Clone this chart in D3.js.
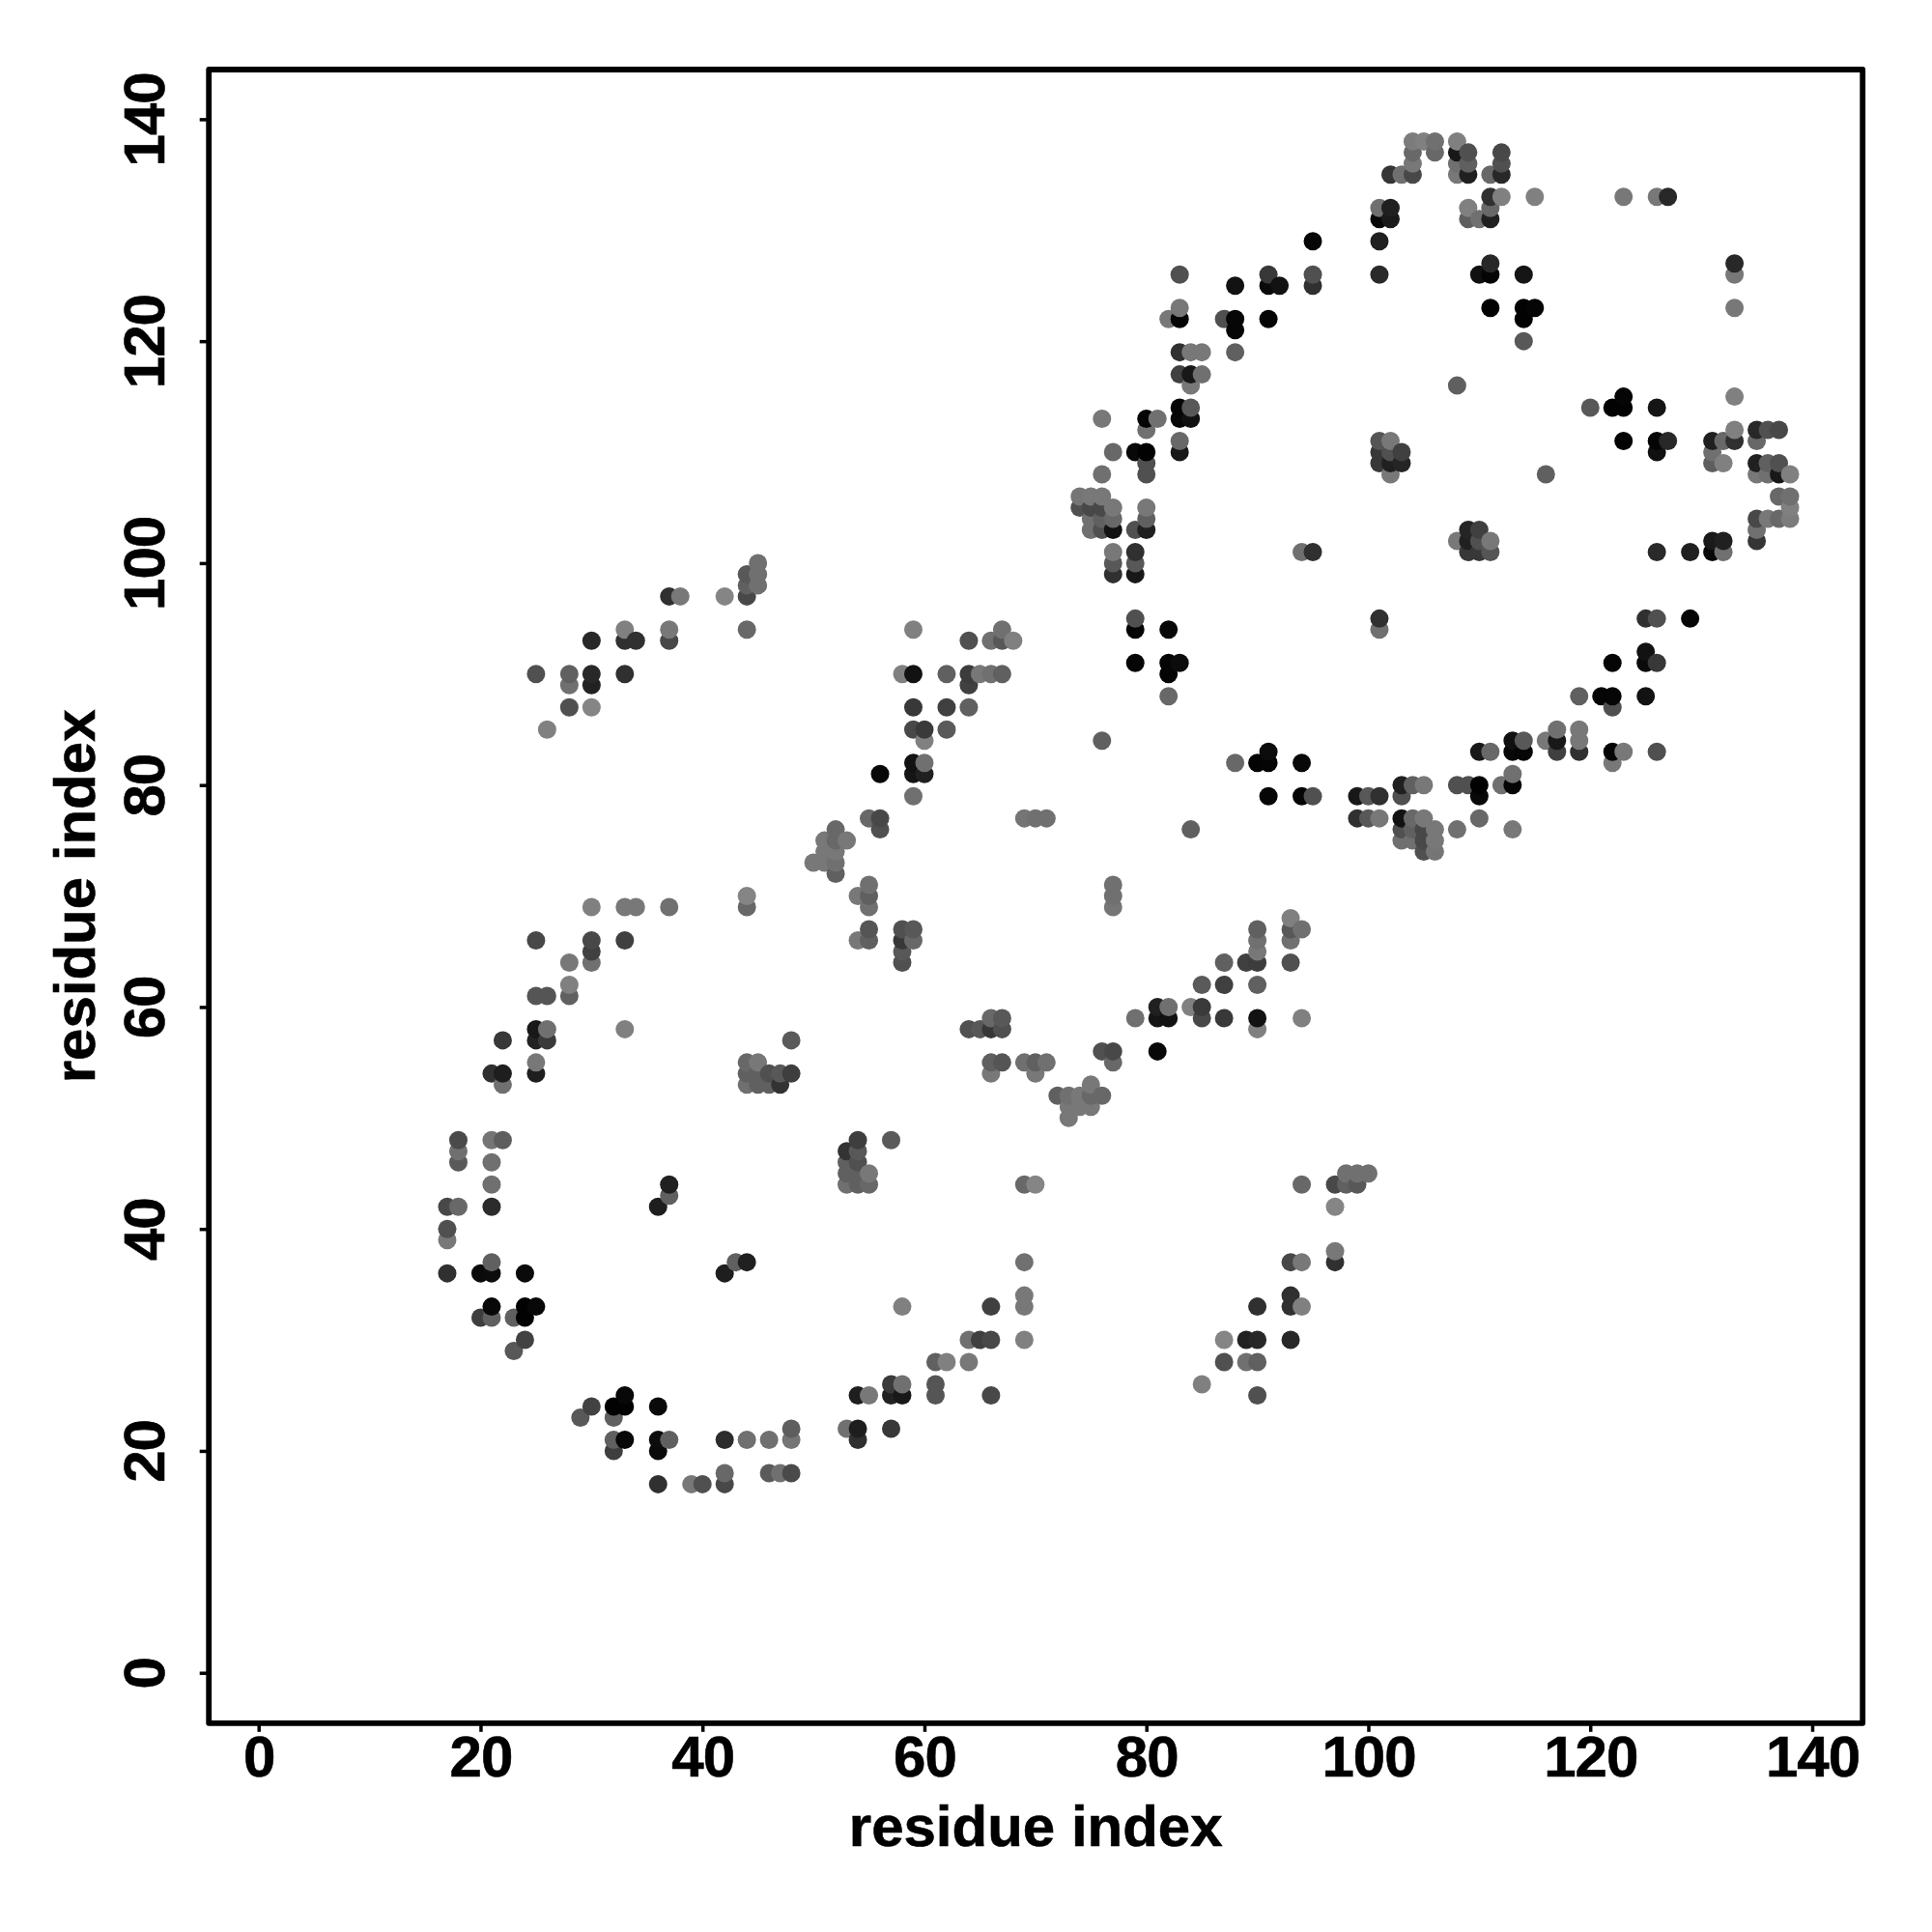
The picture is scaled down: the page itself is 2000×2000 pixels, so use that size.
<!DOCTYPE html>
<html><head><meta charset="utf-8">
<script src="https://cdnjs.cloudflare.com/ajax/libs/d3/7.8.5/d3.min.js"></script>
<style>html,body{margin:0;padding:0;background:#fff}svg{display:block}text{font-family:"Liberation Sans",Arial,sans-serif;font-weight:700;fill:#000;stroke:#000;stroke-width:.6px}</style>
</head><body><script>
// [residue i, residue j, grey level of the contact]; the map is symmetric, so only i<j is listed
const contactsRingOne = [
[17,36,0x30],[17,39,0x78],[17,40,0x50],[17,42,0x48],[18,42,0x68],[18,46,0x5a],[18,47,0x70],[18,48,0x4a],
[20,32,0x3e],[20,36,0x0a],[21,32,0x60],[21,33,0x08],[21,36,0x0c],[21,37,0x60],[21,42,0x2c],[21,44,0x70],[21,46,0x70],[21,48,0x75],[21,54,0x30],
[22,48,0x5e],[22,53,0x70],[22,54,0x1e],[22,57,0x38],
[23,29,0x58],[23,32,0x60],[24,30,0x42],[24,32,0x02],[24,33,0x02],[24,36,0x0a],
[25,33,0x08],[25,54,0x1e],[25,55,0x78],[25,57,0x22],[25,58,0x18],[25,61,0x55],[25,66,0x48],[25,90,0x50],
[26,57,0x3a],[26,58,0x70],[26,61,0x55],[26,85,0x80],
[28,61,0x60],[28,62,0x80],[28,64,0x78],[28,87,0x50],[28,89,0x70],[28,90,0x60],
[30,64,0x70],[30,65,0x40],[30,66,0x48],[30,69,0x80],[30,87,0x85],[30,89,0x22],[30,90,0x28],[30,93,0x28],
[33,58,0x80],[33,66,0x40],[33,69,0x78],[33,90,0x30],[33,93,0x30],[33,94,0x80],[34,69,0x78],[34,93,0x30],
[36,42,0x1e],[37,43,0x60],[37,44,0x20],[37,69,0x70],[37,93,0x48],[37,94,0x78],[37,97,0x30],[38,97,0x78],[42,97,0x85],
[44,53,0x70],[44,54,0x60],[44,55,0x68],[45,53,0x60],[45,54,0x60],[45,55,0x78],[46,53,0x60],[46,54,0x50],[47,53,0x33],[47,54,0x58],[48,54,0x3e],[48,57,0x5a],
[44,69,0x68],[44,70,0x85],[44,94,0x68],[44,97,0x48],[44,98,0x60],[44,99,0x58],[45,98,0x70],[45,99,0x70],[45,100,0x70]
];
const contactsMiddle = [
[50,73,0x78],[51,73,0x78],[51,74,0x78],[51,75,0x78],[52,72,0x60],[52,73,0x70],[52,74,0x78],[52,75,0x68],[52,76,0x68],[53,75,0x78],
[54,66,0x78],[54,70,0x78],[55,66,0x60],[55,67,0x55],[55,69,0x70],[55,70,0x60],[55,71,0x70],[55,77,0x68],[56,76,0x50],[56,77,0x48],[56,81,0x08],
[58,64,0x50],[58,65,0x58],[58,66,0x38],[58,67,0x50],[58,90,0x80],[59,66,0x68],[59,67,0x58],[59,79,0x70],[59,81,0x15],[59,82,0x12],[59,85,0x48],[59,87,0x38],[59,90,0x12],[59,94,0x80],
[60,81,0x20],[60,82,0x70],[60,84,0x80],[60,85,0x3a],[62,85,0x5a],[62,87,0x40],[62,90,0x60],[64,87,0x60],[64,89,0x40],[64,90,0x3c],[64,93,0x50],[65,90,0x78],[66,90,0x70],[66,93,0x70],[67,90,0x60],[67,93,0x58],[67,94,0x70],[68,93,0x80],
[69,77,0x75],[70,77,0x70],[71,77,0x70],[76,84,0x60]
];
const contactsRingTwo = [
[74,105,0x50],[74,106,0x75],[75,103,0x70],[75,104,0x70],[75,105,0x48],[75,106,0x78],[76,103,0x50],[76,104,0x60],[76,105,0x48],[76,106,0x78],[76,108,0x70],[76,113,0x78],
[77,99,0x30],[77,100,0x58],[77,101,0x78],[77,103,0x12],[77,104,0x68],[77,105,0x78],[77,110,0x68],
[79,91,0x06],[79,94,0x05],[79,95,0x50],[79,99,0x18],[79,100,0x58],[79,101,0x30],[79,103,0x50],[79,110,0x08],
[80,103,0x20],[80,104,0x60],[80,105,0x78],[80,108,0x50],[80,109,0x50],[80,110,0x02],[80,112,0x70],[80,113,0x05],[81,113,0x70],
[82,88,0x68],[82,90,0x04],[82,91,0x05],[82,94,0x08],[82,122,0x78],[83,91,0x0c],
[83,110,0x18],[83,111,0x68],[83,113,0x08],[83,114,0x06],[83,117,0x40],[83,119,0x30],[83,122,0x05],[83,123,0x78],[83,126,0x50],
[84,113,0x10],[84,114,0x58],[84,116,0x78],[84,117,0x18],[84,119,0x78],[85,117,0x70],[85,119,0x78],
[87,122,0x50],[88,119,0x60],[88,121,0x06],[88,122,0x06],[88,125,0x12],
[91,122,0x05],[91,125,0x0a],[91,126,0x38],[92,125,0x12],
[94,101,0x70],[95,101,0x30],[95,125,0x30],[95,126,0x50],[95,129,0x06],
[101,109,0x38],[101,110,0x38],[101,111,0x55],[101,126,0x2a],[101,129,0x20],[101,131,0x08],[101,132,0x70],
[102,108,0x78],[102,109,0x20],[102,110,0x50],[102,111,0x78],[102,131,0x1a],[102,132,0x20],[102,135,0x35],
[103,109,0x25],[103,110,0x40],[103,135,0x70],
[104,135,0x48],[104,136,0x78],[104,137,0x68],[104,138,0x7c],[105,138,0x80],[106,137,0x68],[106,138,0x70],
[108,116,0x60],[108,135,0x78],[108,136,0x70],[108,137,0x18],[108,138,0x80],
[109,131,0x5e],[109,132,0x80],[109,135,0x20],[109,136,0x60],[109,137,0x50],[110,126,0x10],[110,131,0x70],
[111,123,0x02],[111,126,0x05],[111,127,0x28],[111,131,0x20],[111,132,0x68],[111,133,0x30],[111,135,0x68],
[112,133,0x80],[112,135,0x28],[112,136,0x50],[112,137,0x48],
[114,120,0x58],[114,122,0x02],[114,123,0x02],[114,126,0x15],[115,123,0x05],[115,133,0x80],[123,133,0x78],[126,133,0x78],[127,133,0x28]
];
const tickValues = [0,20,40,60,80,100,120,140];
const axisTitle = "residue index";

const x = d3.scaleLinear().domain([0,140]).range([267.7,1876]);
const y = d3.scaleLinear().domain([0,140]).range([1731.7,123.4]);
const shade = d3.scaleLinear().domain([0,255]).range(["#000000","#ffffff"]);

const svg = d3.select("body").append("svg").attr("width",2000).attr("height",2000);
const frame = {l:216.2,r:1928.2,t:72,b:1783.8};

const contacts = [...contactsRingOne,...contactsMiddle,...contactsRingTwo];
const points = contacts.flatMap(([i,j,g]) => [{x:i,y:j,g},{x:j,y:i,g}])
  .sort((a,b)=>d3.ascending(a.x,b.x)||d3.ascending(a.y,b.y));

svg.append("g").selectAll("circle").data(points).join("circle")
  .attr("cx",d=>x(d.x)).attr("cy",d=>y(d.y)).attr("r",9.5).attr("fill",d=>shade(d.g));

const gx = svg.append("g").attr("transform",`translate(0,${frame.b})`)
  .call(d3.axisBottom(x).tickValues(tickValues).tickSize(9).tickSizeOuter(0));
const gy = svg.append("g").attr("transform",`translate(${frame.l},0)`)
  .call(d3.axisLeft(y).tickValues(tickValues).tickSize(9.5).tickSizeOuter(0));
[gx,gy].forEach(g=>{g.select(".domain").remove();g.selectAll("line").attr("stroke","#000").attr("stroke-width",3.5);
  g.selectAll("text").attr("font-size",60).attr("font-family",null).style("letter-spacing","-1px");});
gx.selectAll("text").attr("dy",null).attr("y",55.5);
gy.selectAll("text").attr("dy",null).attr("x",null).attr("y",null)
  .attr("text-anchor","middle").attr("transform","translate(-46.5,0) rotate(-90)");

svg.append("rect").attr("x",frame.l).attr("y",frame.t).attr("width",frame.r-frame.l).attr("height",frame.b-frame.t)
  .attr("fill","none").attr("stroke","#000").attr("stroke-width",5.8).attr("stroke-linejoin","round");

svg.append("text").attr("x",(frame.l+frame.r)/2).attr("y",1911).attr("text-anchor","middle").attr("font-size",60).text(axisTitle);
svg.append("text").attr("transform",`translate(98,${(frame.t+frame.b)/2}) rotate(-90)`).attr("text-anchor","middle").attr("font-size",60).text(axisTitle);
</script></body></html>
